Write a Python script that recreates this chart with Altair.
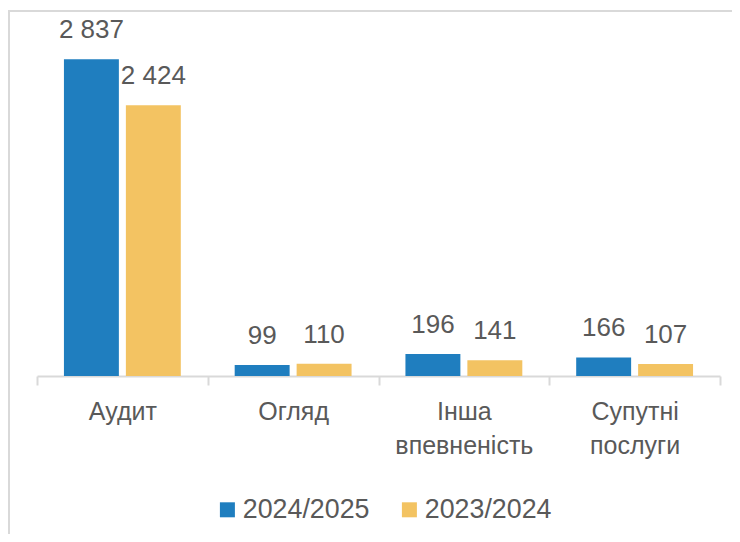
import altair as alt
import pandas as pd

categories = ["Аудит", "Огляд", "Інша впевненість", "Супутні послуги"]
series = ["2024/2025", "2023/2024"]
values_2024_2025 = [2837, 99, 196, 166]
values_2023_2024 = [2424, 110, 141, 107]
colors = ["#1F7EBF", "#F3C362"]

rows = []
for s, vals in zip(series, [values_2024_2025, values_2023_2024]):
    for c, v in zip(categories, vals):
        rows.append({"cat": c, "series": s, "value": v,
                     "label": f"{v:,}".replace(",", " ")})
df = pd.DataFrame(rows)

W, H = 683, 335
FONT = "Liberation Sans"
TXT = "#595959"
GRID = "#D9D9D9"

x = alt.X("cat:N", sort=categories,
          scale=alt.Scale(paddingInner=0, paddingOuter=0),
          axis=alt.Axis(title=None, labelAngle=0, tickBand="extent",
                        domainColor=GRID, domainWidth=2, tickColor=GRID,
                        tickWidth=2, tickSize=9, labelFontSize=25,
                        labelColor=TXT, labelFont=FONT, labelPadding=14,
                        labelExpr="split(datum.label, ' ')",
                        labelLineHeight=34, grid=False))
xo = alt.XOffset("series:N", sort=series,
                 scale=alt.Scale(paddingInner=0.113, paddingOuter=0.435))
y = alt.Y("value:Q", scale=alt.Scale(domain=[0, 3000], nice=False), axis=None)

base = alt.Chart(df)
bars = base.mark_bar().encode(
    x=x, xOffset=xo, y=y,
    color=alt.Color("series:N", sort=series,
                    scale=alt.Scale(domain=series, range=colors),
                    legend=alt.Legend(title=None, orient="none", direction="horizontal",
                                      legendX=177, legendY=455,
                                      symbolType="square", symbolSize=225,
                                      symbolStrokeWidth=0, labelFontSize=26.8,
                                      labelFont=FONT, labelColor=TXT,
                                      labelOffset=2, columnPadding=26)),
)
texts = base.mark_text(baseline="alphabetic", dy=-21, fontSize=26,
                       color=TXT, font=FONT).encode(
    x=x, xOffset=xo, y=y, text="label:N")

bdf = pd.DataFrame({"a": [0]})
top_border = alt.Chart(bdf).mark_rule(color=GRID, strokeWidth=2).encode(
    x=alt.value(-29), x2=alt.value(W + 12), y=alt.value(-30))
left_border = alt.Chart(bdf).mark_rule(color=GRID, strokeWidth=2).encode(
    x=alt.value(-28), y=alt.value(-30), y2=alt.value(H + 158))

chart = alt.layer(top_border, left_border, bars, texts).properties(
    width=W, height=H,
    autosize=alt.AutoSizeParams(type="none"),
    padding={"left": 29, "top": 33, "right": 12, "bottom": 158},
).configure_view(stroke=None)

chart.save("out.html", embed_options={"renderer": "svg", "actions": False})
